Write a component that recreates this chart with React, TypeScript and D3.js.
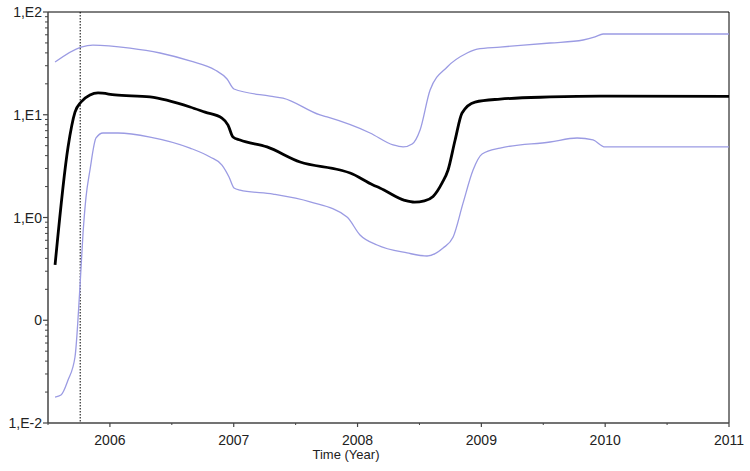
import React from "react";
import * as d3 from "d3";

// Median (black) – [year, value]
const medianYears = [2005.557, 2005.662, 2005.718, 2005.767, 2005.839, 2005.904, 2006.041, 2006.324, 2006.647, 2006.768, 2006.905, 2006.954, 2006.994, 2007.051, 2007.269, 2007.536, 2007.859, 2007.94, 2008.125, 2008.18, 2008.38, 2008.46, 2008.54, 2008.61, 2008.683, 2008.731, 2008.788, 2008.844, 2008.949, 2009.151, 2009.555, 2009.959, 2011];
const medianValues = [0.345, 4.86, 10.6, 13.3, 15.6, 16.3, 15.6, 14.9, 11.9, 10.6, 9.29, 7.94, 6.07, 5.67, 4.86, 3.47, 2.9, 2.71, 2.07, 1.94, 1.47, 1.41, 1.45, 1.6, 2.17, 2.9, 5.68, 10.4, 13.3, 14.2, 14.9, 15.2, 15.1];

// Upper 95% HPD (blue)
const upperYears = [2005.557, 2005.767, 2005.863, 2006.162, 2006.405, 2006.647, 2006.849, 2006.946, 2007.002, 2007.293, 2007.398, 2007.697, 2007.754, 2008.101, 2008.287, 2008.368, 2008.441, 2008.505, 2008.586, 2008.724, 2008.885, 2008.966, 2009.151, 2009.555, 2009.822, 2009.918, 2009.983, 2011];
const upperValues = [32.6, 45.6, 47.7, 44.6, 39.9, 33.4, 27.3, 22.3, 17.8, 15.2, 14.5, 9.95, 9.51, 6.64, 5.08, 4.86, 5.19, 7.11, 17.4, 29.2, 39.9, 43.6, 45.6, 49.9, 53.4, 57.2, 61.1, 61.1];

// Lower 95% HPD (blue)
const lowerYears = [2005.557, 2005.605, 2005.662, 2005.718, 2005.758, 2005.783, 2005.807, 2005.839, 2005.888, 2005.944, 2006.065, 2006.324, 2006.647, 2006.809, 2006.905, 2006.962, 2007.002, 2007.051, 2007.318, 2007.617, 2007.915, 2008.02, 2008.158, 2008.4, 2008.561, 2008.691, 2008.772, 2008.852, 2008.933, 2009.006, 2009.151, 2009.555, 2009.773, 2009.902, 2009.999, 2011];
const lowerValues = [0.0179, 0.0187, 0.0262, 0.0439, 0.211, 0.706, 1.58, 2.9, 5.94, 6.64, 6.64, 6.07, 4.74, 3.88, 3.24, 2.48, 1.94, 1.85, 1.69, 1.42, 1.01, 0.676, 0.54, 0.452, 0.422, 0.505, 0.646, 1.38, 2.9, 4.15, 4.74, 5.43, 5.94, 5.68, 4.86, 4.86];

const markerYear = 2005.76;

const xTickYears = [2006, 2007, 2008, 2009, 2010, 2011];
const xMinorYears = [2005.5, 2006.5, 2007.5, 2008.5, 2009.5, 2010.5];
const yTickValues = [100, 10, 1, 0.1, 0.01];
const yTickLabels = ["1,E2", "1,E1", "1,E0", "0", "1,E-2"];

const W = 750, H = 471;
const left = 48, right = 729, top = 12, bottom = 423;
const FONT = "'Liberation Sans', Arial, sans-serif";

export default function App() {
  const x = d3.scaleLinear().domain([2005.5, 2011]).range([left, right]);
  const y = d3.scaleLog().domain([0.01, 100]).range([bottom, top]);

  const line = d3
    .line<[number, number]>()
    .x((d) => x(d[0]))
    .y((d) => y(d[1]))
    .curve(d3.curveMonotoneX);

  const zip = (a: number[], b: number[]) => a.map((v, i) => [v, b[i]] as [number, number]);

  const minorY: number[] = [];
  for (let e = -2; e < 2; e++) {
    for (let k = 2; k <= 9; k++) minorY.push(k * Math.pow(10, e));
  }

  return (
    <svg width={W} height={H} style={{ position: "absolute", left: 0, top: 0, background: "#fff" }}>
      <rect x={0} y={0} width={W} height={H} fill="#fff" />
      {/* frame */}
      <line x1={left} x2={right} y1={top} y2={top} stroke="#000" strokeWidth={1} />
      <line x1={right} x2={right} y1={top} y2={bottom} stroke="#000" strokeWidth={1} />
      <line x1={left} x2={left} y1={top} y2={bottom} stroke="#444" strokeWidth={1.5} />
      <line x1={left} x2={right} y1={bottom} y2={bottom} stroke="#444" strokeWidth={1.5} />

      {/* y ticks */}
      {yTickValues.map((v, i) => (
        <g key={"yt" + i}>
          <line x1={left - 5} x2={left} y1={y(v)} y2={y(v)} stroke="#444" strokeWidth={1.2} />
          <text x={42} y={y(v)} dy="0.36em" textAnchor="end" fontFamily={FONT} fontSize={14} fill="#222">
            {yTickLabels[i]}
          </text>
        </g>
      ))}
      {minorY.map((v, i) => (
        <line key={"ym" + i} x1={left - 3} x2={left} y1={y(v)} y2={y(v)} stroke="#444" strokeWidth={1} />
      ))}

      {/* x ticks */}
      {xTickYears.map((t) => (
        <g key={"xt" + t}>
          <line x1={x(t)} x2={x(t)} y1={bottom} y2={bottom + 4} stroke="#444" strokeWidth={1.2} />
          <text x={x(t)} y={445} textAnchor="middle" fontFamily={FONT} fontSize={14} fill="#222">
            {t}
          </text>
        </g>
      ))}
      {xMinorYears.map((t) => (
        <line key={"xm" + t} x1={x(t)} x2={x(t)} y1={bottom} y2={bottom + 2} stroke="#444" strokeWidth={1} />
      ))}
      <text x={346} y={459} textAnchor="middle" fontFamily={FONT} fontSize={13} fill="#222">
        Time (Year)
      </text>

      {/* dotted marker */}
      <line x1={x(markerYear)} x2={x(markerYear)} y1={top} y2={bottom} stroke="#000" strokeWidth={1} strokeDasharray="1.5,1.5" />

      {/* curves */}
      <path d={line(zip(upperYears, upperValues)) || ""} fill="none" stroke="#9b9be3" strokeWidth={1.3} />
      <path d={line(zip(lowerYears, lowerValues)) || ""} fill="none" stroke="#9b9be3" strokeWidth={1.3} />
      <path d={line(zip(medianYears, medianValues)) || ""} fill="none" stroke="#000" strokeWidth={2.8} />
    </svg>
  );
}
